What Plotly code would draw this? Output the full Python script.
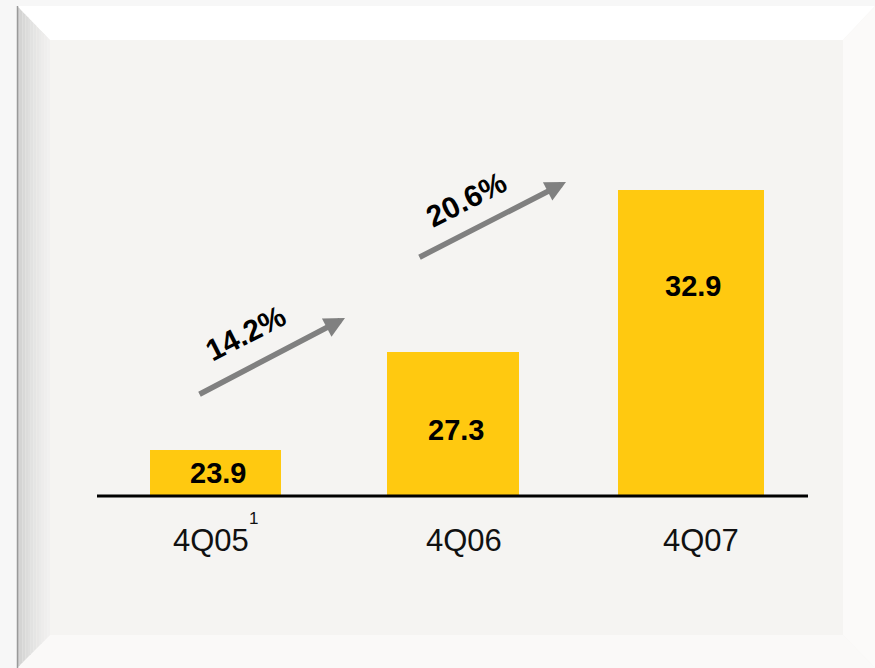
import plotly.graph_objects as go

# ---- data ----
categories = ["4Q05", "4Q06", "4Q07"]
values = [23.9, 27.3, 32.9]
value_labels = ["23.9", "27.3", "32.9"]
growth_labels = ["14.2%", "20.6%"]
footnote = "1"

W, H = 875, 668
BAR = "#FFC910"

def px(x):
    return x / W

def py(y):
    return 1 - y / H

# pixel mapping of category axis
unit = 237.75
c0 = 215.5
x_range = [-c0 / unit, (W - c0) / unit]
base_px = 495
y_lo, y_scale = 22.33, 28.83
y_range = [y_lo, y_lo + base_px / y_scale]

fig = go.Figure()
fig.add_trace(go.Bar(
    x=list(range(len(categories))), y=values,
    width=[0.551, 0.555, 0.614],
    marker=dict(color=BAR, line=dict(width=0)),
    hoverinfo="skip",
))

shapes = []
# outer frame face
shapes.append(dict(type="rect", xref="paper", yref="paper",
                   x0=px(17), x1=px(875), y0=py(668), y1=py(6),
                   fillcolor="#f5f4f2", line=dict(width=0), layer="below"))
# top bevel
shapes.append(dict(type="path", xref="paper", yref="paper",
                   path=f"M {px(17)},{py(6)} L {px(875)},{py(6)} L {px(843)},{py(40)} L {px(50)},{py(40)} Z",
                   fillcolor="#ffffff", line=dict(width=0), layer="below"))
# right bevel
shapes.append(dict(type="path", xref="paper", yref="paper",
                   path=f"M {px(875)},{py(6)} L {px(875)},{py(668)} L {px(843)},{py(635)} L {px(843)},{py(40)} Z",
                   fillcolor="#fbfaf9", line=dict(width=0), layer="below"))
# bottom bevel
shapes.append(dict(type="path", xref="paper", yref="paper",
                   path=f"M {px(17)},{py(668)} L {px(875)},{py(668)} L {px(843)},{py(635)} L {px(50)},{py(635)} Z",
                   fillcolor="#faf9f8", line=dict(width=0), layer="below"))
# left bevel as gradient strips
n = 12
cols_start = (200, 200, 200)
cols_end = (243, 242, 241)
for i in range(n):
    xa = 17 + 33 * i / n
    xb = 17 + 33 * (i + 1) / n
    t = (i + 0.5) / n
    t = t ** 0.6
    c = tuple(int(cols_start[k] + (cols_end[k] - cols_start[k]) * t) for k in range(3))
    ya_t = 6 + (xa - 17) * 34 / 33
    yb_t = 6 + (xb - 17) * 34 / 33
    ya_b = 668 - (xa - 17)
    yb_b = 668 - (xb - 17)
    shapes.append(dict(type="path", xref="paper", yref="paper",
                       path=f"M {px(xa)},{py(ya_t)} L {px(xb)},{py(yb_t)} L {px(xb)},{py(yb_b)} L {px(xa)},{py(ya_b)} Z",
                       fillcolor=f"rgb{c}", line=dict(width=0), layer="below"))
# left dark edge
shapes.append(dict(type="line", xref="paper", yref="paper",
                   x0=px(17.5), x1=px(17.5), y0=py(6), y1=py(668),
                   line=dict(color="#9a9a9a", width=1.5)))
# baseline
shapes.append(dict(type="line", xref="paper", yref="paper",
                   x0=px(97), x1=px(808), y0=py(496), y1=py(496),
                   line=dict(color="#000000", width=3)))

ann = []
# category labels
cat_shift = [-5, 11, 9.5]
for i, c in enumerate(categories):
    ann.append(dict(x=i, xref="x", y=py(540), yref="paper", text=c, showarrow=False,
                    xanchor="center", yanchor="middle", xshift=cat_shift[i],
                    font=dict(family="Liberation Sans, Arial", size=31, color="#111111")))
ann.append(dict(x=px(254), y=py(518), xref="paper", yref="paper", text=footnote,
                showarrow=False, xanchor="center", yanchor="middle",
                font=dict(family="Liberation Sans, Arial", size=17, color="#111111")))
# value labels
val_y = [473, 430, 286]
val_shift = [2, 3, 2]
for i, t in enumerate(value_labels):
    ann.append(dict(x=i, xref="x", y=py(val_y[i]), yref="paper", text=f"<b>{t}</b>",
                    showarrow=False, xanchor="center", yanchor="middle", xshift=val_shift[i],
                    font=dict(family="Liberation Sans, Arial", size=29, color="#000000")))
# growth arrows
arrows = [((345, 318), (198, 395)), ((566, 182), (418, 258))]
for head, tail in arrows:
    ann.append(dict(x=px(head[0]), y=py(head[1]), xref="paper", yref="paper",
                    ax=tail[0] - head[0], ay=tail[1] - head[1], text="",
                    showarrow=True, arrowhead=2, arrowsize=0.75, arrowwidth=5.5,
                    arrowcolor="#808080", standoff=0, startstandoff=0))
growth_pos = [(245, 333), (466, 200)]
for (gx, gy), t in zip(growth_pos, growth_labels):
    ann.append(dict(x=px(gx), y=py(gy), xref="paper", yref="paper", text=f"<b>{t}</b>",
                    showarrow=False, textangle=-27, xanchor="center", yanchor="middle",
                    font=dict(family="Liberation Sans, Arial", size=30, color="#000000")))

fig.update_layout(
    width=W, height=H,
    margin=dict(l=0, r=0, t=0, b=0),
    paper_bgcolor="#f7f7f7",
    plot_bgcolor="rgba(0,0,0,0)",
    showlegend=False,
    xaxis=dict(range=x_range, domain=[0, 1], visible=False, fixedrange=True),
    yaxis=dict(range=y_range, domain=[1 - base_px / H, 1], visible=False, fixedrange=True),
    shapes=shapes,
    annotations=ann,
    bargap=0,
)

fig.write_html("out.html", config={"displayModeBar": False},
               post_script="document.body.style.margin='0';document.body.style.overflow='hidden';document.documentElement.style.overflow='hidden';")
